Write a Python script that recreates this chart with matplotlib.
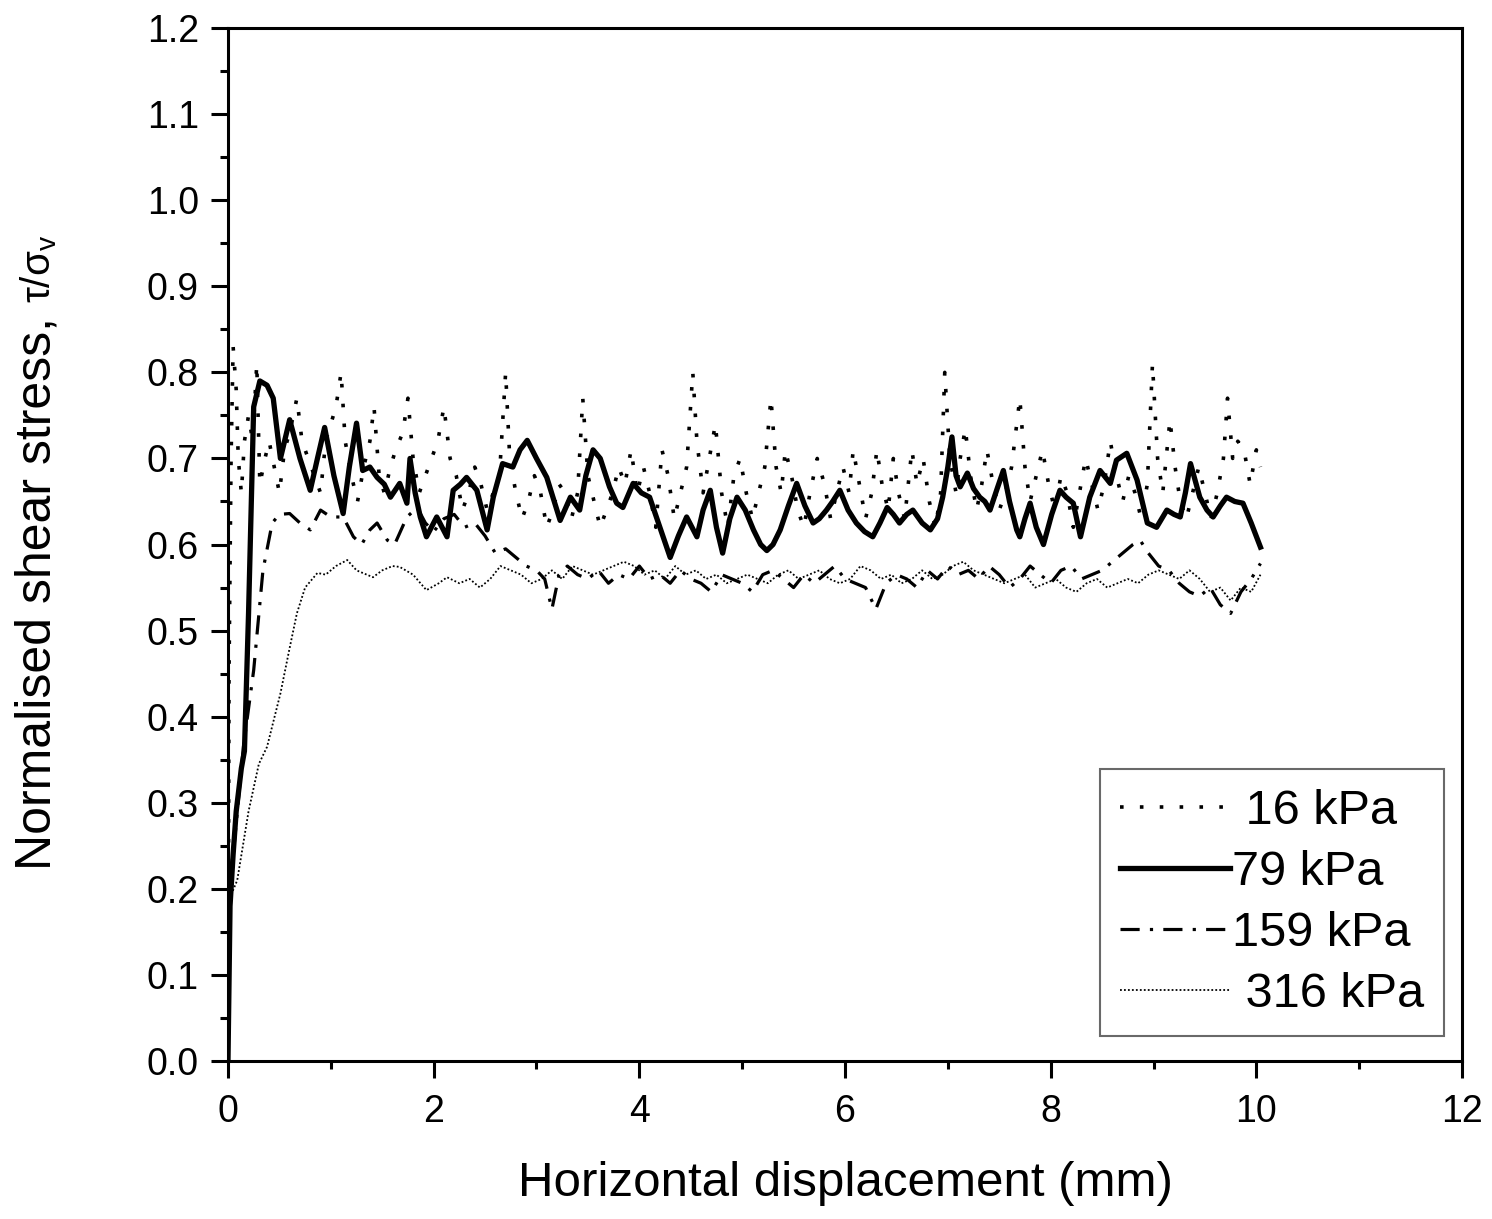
import numpy as np
import matplotlib
matplotlib.use('Agg')
import matplotlib.pyplot as plt
from matplotlib.ticker import MultipleLocator

plt.rcParams['font.family'] = ['Liberation Sans', 'DejaVu Sans']

# 16 kPa - sparse dots, spiky
x16 = [0.00, 0.01, 0.03, 0.05, 0.08, 0.10, 0.13, 0.16, 0.20, 0.24,
       0.28, 0.31, 0.36, 0.40, 0.45, 0.50, 0.55, 0.60, 0.67, 0.72,
       0.78, 0.84, 0.90, 0.95, 1.00, 1.05, 1.10, 1.14, 1.20, 1.26,
       1.32, 1.38, 1.42, 1.47, 1.52, 1.58, 1.63, 1.70, 1.75, 1.80,
       1.86, 1.92, 1.98, 2.04, 2.10, 2.16, 2.22, 2.28, 2.34, 2.40,
       2.46, 2.52, 2.58, 2.64, 2.70, 2.74, 2.80, 2.86, 2.92, 2.98,
       3.04, 3.10, 3.16, 3.22, 3.28, 3.34, 3.40, 3.45, 3.50, 3.56,
       3.62, 3.68, 3.74, 3.80, 3.86, 3.92, 3.98, 4.04, 4.10, 4.16,
       4.22, 4.28, 4.34, 4.40, 4.46, 4.52, 4.56, 4.62, 4.68, 4.74,
       4.80, 4.86, 4.92, 4.98, 5.04, 5.10, 5.16, 5.22, 5.28, 5.33,
       5.38, 5.42, 5.48, 5.54, 5.60, 5.66, 5.73, 5.80, 5.86, 5.92,
       5.98, 6.04, 6.08, 6.14, 6.20, 6.26, 6.31, 6.36, 6.42, 6.47,
       6.52, 6.58, 6.65, 6.70, 6.76, 6.82, 6.88, 6.93, 6.97, 7.02,
       7.08, 7.12, 7.17, 7.22, 7.28, 7.33, 7.38, 7.44, 7.50, 7.56,
       7.62, 7.70, 7.75, 7.80, 7.86, 7.92, 7.98, 8.04, 8.10, 8.16,
       8.22, 8.28, 8.34, 8.40, 8.46, 8.52, 8.58, 8.64, 8.70, 8.76,
       8.82, 8.88, 8.94, 8.99, 9.04, 9.09, 9.16, 9.21, 9.26, 9.32,
       9.38, 9.44, 9.50, 9.56, 9.62, 9.68, 9.72, 9.77, 9.82, 9.88,
       9.94, 10.00, 10.04]
y16 = [0.00, 0.45, 0.70, 0.83, 0.78, 0.70, 0.66, 0.72, 0.75, 0.72,
       0.81, 0.67, 0.70, 0.72, 0.69, 0.66, 0.71, 0.73, 0.77, 0.72,
       0.70, 0.68, 0.66, 0.72, 0.74, 0.76, 0.80, 0.72, 0.68, 0.65,
       0.69, 0.72, 0.76, 0.68, 0.66, 0.69, 0.71, 0.73, 0.77, 0.70,
       0.66, 0.68, 0.70, 0.72, 0.76, 0.70, 0.68, 0.64, 0.66, 0.69,
       0.67, 0.64, 0.66, 0.68, 0.80, 0.70, 0.66, 0.63, 0.65, 0.68,
       0.66, 0.62, 0.64, 0.67, 0.66, 0.63, 0.66, 0.77, 0.68, 0.65,
       0.62, 0.64, 0.66, 0.69, 0.67, 0.71, 0.66, 0.69, 0.66, 0.62,
       0.71, 0.68, 0.63, 0.66, 0.69, 0.80, 0.72, 0.66, 0.70, 0.74,
       0.66, 0.62, 0.68, 0.70, 0.66, 0.63, 0.66, 0.69, 0.77, 0.69,
       0.66, 0.71, 0.68, 0.64, 0.62, 0.66, 0.70, 0.67, 0.63, 0.66,
       0.69, 0.66, 0.71, 0.67, 0.63, 0.66, 0.71, 0.67, 0.64, 0.70,
       0.66, 0.63, 0.71, 0.67, 0.70, 0.65, 0.62, 0.66, 0.80, 0.70,
       0.66, 0.70, 0.735, 0.68, 0.64, 0.67, 0.71, 0.67, 0.64, 0.66,
       0.69, 0.77, 0.69, 0.65, 0.68, 0.71, 0.67, 0.64, 0.68, 0.66,
       0.62, 0.66, 0.70, 0.67, 0.64, 0.67, 0.72, 0.68, 0.65, 0.68,
       0.66, 0.63, 0.67, 0.81, 0.70, 0.66, 0.745, 0.69, 0.65, 0.63,
       0.66, 0.69, 0.66, 0.63, 0.66, 0.70, 0.77, 0.70, 0.72, 0.71,
       0.67, 0.71, 0.69]

# 79 kPa - thick solid
x79 = [0.00, 0.02, 0.05, 0.08, 0.10, 0.13, 0.16, 0.20, 0.25, 0.31,
       0.38, 0.44, 0.51, 0.60, 0.70, 0.80, 0.87, 0.94, 1.03, 1.12,
       1.18, 1.25, 1.31, 1.38, 1.45, 1.52, 1.58, 1.67, 1.74, 1.77,
       1.82, 1.87, 1.93, 2.03, 2.13, 2.19, 2.26, 2.32, 2.42, 2.52,
       2.58, 2.67, 2.77, 2.84, 2.91, 3.00, 3.10, 3.23, 3.33, 3.42,
       3.48, 3.55, 3.62, 3.71, 3.78, 3.84, 3.94, 4.02, 4.10, 4.20,
       4.30, 4.38, 4.46, 4.56, 4.62, 4.69, 4.75, 4.81, 4.88, 4.95,
       5.03, 5.11, 5.18, 5.24, 5.30, 5.37, 5.45, 5.53, 5.61, 5.69,
       5.75, 5.82, 5.88, 5.95, 6.03, 6.11, 6.19, 6.27, 6.34, 6.41,
       6.47, 6.53, 6.60, 6.66, 6.75, 6.83, 6.90, 6.95, 7.00, 7.04,
       7.08, 7.12, 7.19, 7.25, 7.31, 7.36, 7.41, 7.48, 7.54, 7.60,
       7.67, 7.70, 7.75, 7.80, 7.86, 7.93, 8.01, 8.09, 8.15, 8.22,
       8.29, 8.38, 8.48, 8.58, 8.64, 8.74, 8.84, 8.94, 9.03, 9.13,
       9.20, 9.26, 9.31, 9.36, 9.45, 9.52, 9.58, 9.65, 9.71, 9.79,
       9.87, 9.95, 10.04]
y79 = [0.00, 0.18, 0.24, 0.29, 0.31, 0.34, 0.36, 0.52, 0.76, 0.79,
       0.785, 0.77, 0.70, 0.745, 0.70, 0.663, 0.70, 0.736, 0.68, 0.636,
       0.69, 0.741, 0.686, 0.69, 0.678, 0.67, 0.655, 0.671, 0.648, 0.70,
       0.66, 0.632, 0.609, 0.632, 0.609, 0.663, 0.67, 0.678, 0.663, 0.617,
       0.655, 0.694, 0.69, 0.71, 0.721, 0.70, 0.678, 0.628, 0.655, 0.64,
       0.68, 0.71, 0.70, 0.667, 0.648, 0.643, 0.671, 0.66, 0.655, 0.62,
       0.585, 0.61, 0.632, 0.609, 0.64, 0.663, 0.62, 0.59, 0.63, 0.655,
       0.64, 0.617, 0.60, 0.593, 0.60, 0.617, 0.645, 0.671, 0.645, 0.625,
       0.63, 0.64, 0.65, 0.663, 0.64, 0.625, 0.615, 0.609, 0.625, 0.643,
       0.635, 0.625, 0.635, 0.64, 0.625, 0.617, 0.63, 0.655, 0.69, 0.725,
       0.68, 0.667, 0.683, 0.665, 0.655, 0.65, 0.64, 0.665, 0.686, 0.65,
       0.617, 0.609, 0.63, 0.648, 0.62, 0.60, 0.635, 0.663, 0.655, 0.648,
       0.609, 0.655, 0.686, 0.671, 0.698, 0.706, 0.675, 0.625, 0.62, 0.64,
       0.635, 0.632, 0.66, 0.694, 0.655, 0.64, 0.632, 0.645, 0.655, 0.65,
       0.648, 0.625, 0.597]

# 159 kPa - dash dot
x159 = [0.00, 0.02, 0.15, 0.25, 0.34, 0.43, 0.50, 0.60, 0.70, 0.80,
        0.90, 1.00, 1.12, 1.22, 1.30, 1.38, 1.45, 1.55, 1.62, 1.74,
        1.84, 1.92, 2.00, 2.10, 2.20, 2.30, 2.40, 2.50, 2.60, 2.70,
        2.80, 2.90, 3.00, 3.08, 3.15, 3.22, 3.30, 3.40, 3.50, 3.60,
        3.70, 3.80, 3.90, 4.00, 4.10, 4.20, 4.30, 4.40, 4.50, 4.60,
        4.70, 4.80, 4.90, 5.00, 5.10, 5.20, 5.30, 5.40, 5.50, 5.60,
        5.70, 5.80, 5.90, 6.00, 6.10, 6.20, 6.30, 6.40, 6.50, 6.60,
        6.70, 6.80, 6.90, 7.00, 7.10, 7.20, 7.30, 7.40, 7.50, 7.60,
        7.70, 7.80, 7.90, 8.00, 8.10, 8.20, 8.30, 8.40, 8.50, 8.60,
        8.70, 8.80, 8.87, 8.95, 9.05, 9.15, 9.25, 9.35, 9.45, 9.55,
        9.65, 9.75, 9.85, 9.95, 10.04]
y159 = [0.00, 0.20, 0.365, 0.454, 0.57, 0.625, 0.635, 0.636, 0.625, 0.617,
        0.64, 0.632, 0.632, 0.609, 0.60, 0.617, 0.625, 0.605, 0.60, 0.632,
        0.643, 0.625, 0.615, 0.63, 0.635, 0.62, 0.625, 0.61, 0.59, 0.595,
        0.585, 0.575, 0.57, 0.56, 0.525, 0.565, 0.575, 0.565, 0.56, 0.57,
        0.555, 0.565, 0.56, 0.575, 0.56, 0.565, 0.555, 0.57, 0.56, 0.555,
        0.545, 0.565, 0.56, 0.555, 0.545, 0.565, 0.57, 0.56, 0.55, 0.565,
        0.555, 0.565, 0.575, 0.56, 0.555, 0.55, 0.525, 0.555, 0.565, 0.56,
        0.55, 0.57, 0.56, 0.575, 0.565, 0.57, 0.56, 0.575, 0.565, 0.55,
        0.56, 0.575, 0.565, 0.555, 0.57, 0.575, 0.56, 0.565, 0.57, 0.58,
        0.59, 0.60, 0.605, 0.59, 0.575, 0.57, 0.555, 0.545, 0.54, 0.55,
        0.53, 0.52, 0.545, 0.56, 0.578]

# 316 kPa - fine dots
x316 = [0.00, 0.02, 0.09, 0.20, 0.30, 0.38, 0.51, 0.60, 0.67, 0.75,
        0.87, 0.95, 1.05, 1.16, 1.25, 1.41, 1.50, 1.60, 1.67, 1.80,
        1.93, 2.05, 2.13, 2.25, 2.35, 2.45, 2.55, 2.65, 2.75, 2.85,
        2.95, 3.05, 3.15, 3.25, 3.35, 3.45, 3.55, 3.65, 3.75, 3.85,
        3.95, 4.05, 4.15, 4.25, 4.35, 4.45, 4.55, 4.65, 4.75, 4.85,
        4.95, 5.05, 5.15, 5.25, 5.35, 5.45, 5.55, 5.65, 5.75, 5.85,
        5.95, 6.05, 6.15, 6.25, 6.35, 6.45, 6.55, 6.65, 6.75, 6.85,
        6.95, 7.05, 7.15, 7.25, 7.35, 7.45, 7.55, 7.65, 7.75, 7.85,
        7.95, 8.05, 8.15, 8.25, 8.35, 8.45, 8.55, 8.65, 8.75, 8.85,
        8.95, 9.05, 9.15, 9.25, 9.35, 9.45, 9.55, 9.65, 9.75, 9.85,
        9.95, 10.04]
y316 = [0.00, 0.19, 0.21, 0.29, 0.345, 0.365, 0.427, 0.48, 0.52, 0.55,
        0.567, 0.565, 0.575, 0.582, 0.57, 0.562, 0.57, 0.575, 0.574, 0.565,
        0.547, 0.555, 0.562, 0.555, 0.56, 0.55, 0.56, 0.575, 0.57, 0.565,
        0.555, 0.56, 0.57, 0.56, 0.575, 0.57, 0.565, 0.57, 0.575, 0.58,
        0.575, 0.565, 0.57, 0.56, 0.575, 0.565, 0.57, 0.56, 0.565, 0.555,
        0.56, 0.565, 0.56, 0.555, 0.565, 0.57, 0.56, 0.565, 0.57, 0.56,
        0.555, 0.56, 0.575, 0.57, 0.56, 0.565, 0.555, 0.56, 0.57, 0.56,
        0.565, 0.575, 0.58, 0.57, 0.565, 0.56, 0.555, 0.56, 0.565, 0.55,
        0.555, 0.56, 0.55, 0.545, 0.555, 0.56, 0.55, 0.555, 0.56, 0.555,
        0.565, 0.57, 0.565, 0.56, 0.57, 0.56, 0.545, 0.55, 0.535, 0.55,
        0.545, 0.565]

fig = plt.figure(figsize=(14.92, 12.19), dpi=100)
ax = fig.add_axes([0.1528, 0.1296, 0.8271, 0.8474])

ax.plot(x16, y16, color='black', lw=2.6, linestyle=(0, (1, 4.5)), label=' 16 kPa')
ax.plot(x79, y79, color='black', lw=3.8, solid_joinstyle='round', label='79 kPa')
ax.plot(x159, y159, color='black', lw=2.3, linestyle=(0, (6, 3.2, 1, 3.2)), label='159 kPa')
ax.plot(x316, y316, color='black', lw=1.3, linestyle=(0, (1, 1.2)), label=' 316 kPa')

ax.set_xlim(0, 12)
ax.set_ylim(0, 1.2)
ax.xaxis.set_major_locator(MultipleLocator(2))
ax.xaxis.set_minor_locator(MultipleLocator(1))
ax.yaxis.set_major_locator(MultipleLocator(0.1))
ax.yaxis.set_minor_locator(MultipleLocator(0.05))
ax.yaxis.set_major_formatter(matplotlib.ticker.FormatStrFormatter('%.1f'))

for s in ax.spines.values():
    s.set_linewidth(2.2)
ax.tick_params(which='major', direction='out', length=12, width=2.2, labelsize=27)
ax.tick_params(axis='y', which='major', pad=9)
ax.tick_params(axis='x', which='major', pad=12)
ax.tick_params(which='minor', direction='out', length=6, width=2.2)

ax.set_xlabel('Horizontal displacement (mm)', fontsize=35.5, labelpad=22)

# y label: main text plus smaller tau/sigma part
fig.text(0.0248, 1 - 870 / 1219, 'Normalised shear stress,', rotation=90,
         ha='center', va='bottom', fontsize=36)
fig.text(0.026, 1 - 303 / 1219, '\u03c4/\u03c3$_\\mathregular{v}$', rotation=90,
         ha='center', va='bottom', fontsize=29)

leg = ax.legend(loc='lower right', bbox_to_anchor=(0.985, 0.024), borderaxespad=0,
                fontsize=35, handlelength=2.26, handletextpad=0.05, labelspacing=0.33,
                fancybox=False, frameon=True, borderpad=0.4)
leg.get_frame().set_edgecolor('#444444')
leg.get_frame().set_linewidth(1.5)

fig.savefig('out.png', dpi=100)
